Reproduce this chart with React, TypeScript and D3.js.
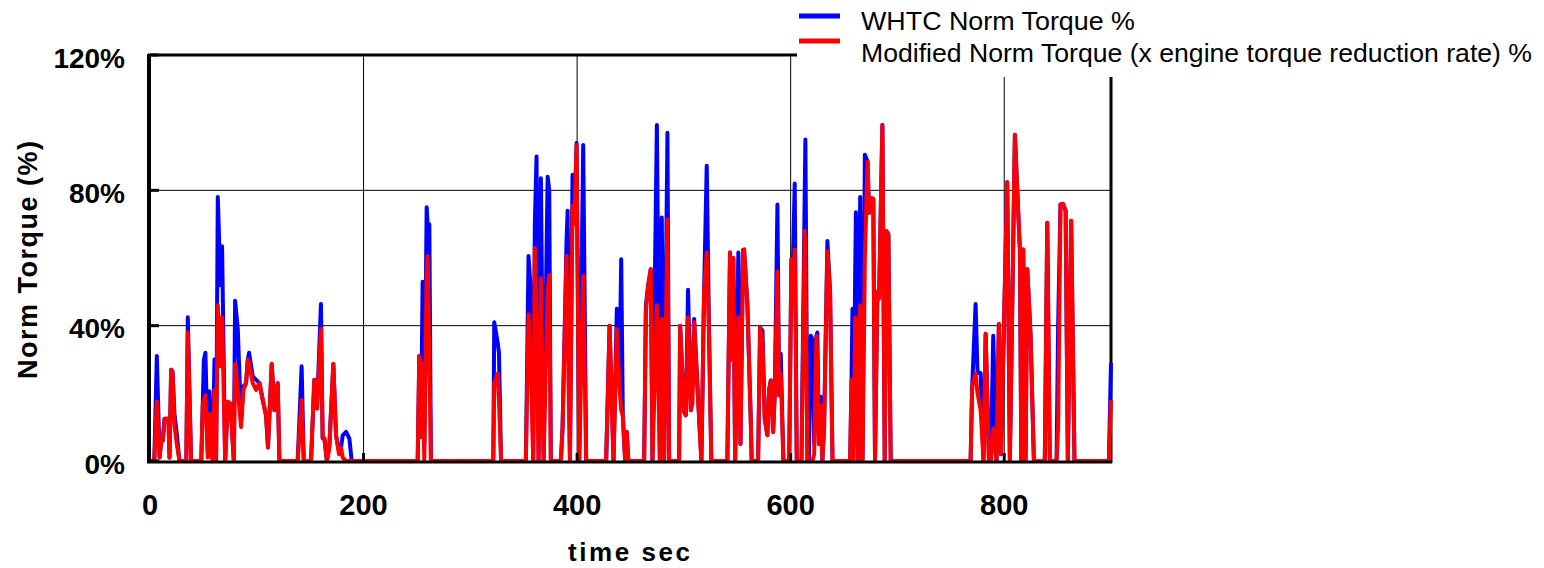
import React from "react";
import * as d3 from "d3";

// time axis (sec) and the two torque series (%)
const timeSec = [
  0, 4, 6.4, 9, 10.5, 12, 13.6, 17.3, 18.3, 19.8, 21.1, 22.9, 25.1, 27.6, 34, 35.4, 38.5, 48, 49.4, 50.4,
  51.9, 54.1, 55.7, 57.2, 58.8, 60.4, 61.9, 63.5, 66, 67.5, 70.4, 72.8, 75.3, 78.5, 79.7, 82.2, 85.3, 87.5, 90, 91.6,
  92.8, 96.2, 99.4, 102.5, 105.6, 108.7, 110.5, 114, 116.5, 119.6, 121.2, 138.3, 142, 144, 150.8, 153.9, 156.4, 160.1, 161.7, 163.3,
  165.7, 167.9, 171.7, 174.2, 177, 178.9, 180.5, 183.6, 186.7, 188.9, 250.7, 252.2, 253.8, 255.3, 256.9, 259.1, 260, 261.6, 263.1, 321.5,
  322.4, 325.6, 326.8, 328.8, 352, 354.5, 356.7, 358.9, 360.4, 362, 363.9, 366.1, 368.6, 372.4, 373.9, 375.4, 384.8, 386.4, 390.1, 391.1,
  393.3, 395.7, 397.5, 399.5, 402, 405.7, 408.5, 427.2, 430.4, 434.1, 437.2, 439.7, 441.3, 442.8, 445, 446.5, 448, 462.8, 464.4, 466.5,
  469, 470.6, 474.7, 477.5, 479.3, 481.5, 484.6, 486.2, 495.5, 496.5, 500.2, 501.8, 503.9, 506.5, 508, 509.6, 512.7, 516.4, 518.9, 521.4,
  523.6, 525.7, 540.7, 543.2, 545, 546.3, 548, 551, 553, 555.4, 556.4, 559.5, 562.6, 563.5, 569.5, 571.4, 573.6, 575.7, 578.2, 579.8,
  581.4, 583.6, 585.1, 587.6, 589.2, 590.7, 593.2, 598.6, 600.7, 602.2, 603.8, 605.7, 610.1, 613.2, 613.8, 615.7, 617, 618.8, 620.5, 622,
  624.1, 625, 626.5, 628.2, 629.7, 631.3, 634.4, 636.9, 639.2, 655.7, 657, 657.9, 659, 660.4, 661.1, 663.3, 665.1, 667.3, 669.5, 672,
  673.4, 674.9, 677.4, 679, 681.2, 682.8, 685.9, 688.1, 689.6, 691.5, 693.7, 768.5, 770, 773.2, 775, 777.9, 780.6, 782.6, 785.7, 787.5,
  789.7, 792.8, 795, 797, 802.8, 805.3, 810, 812.2, 814.7, 816, 817.8, 820, 821.6, 824.7, 827.8, 838, 840.3, 842.7, 849, 850.5,
  852.7, 855, 857.5, 859.6, 862.7, 865.8, 898, 900,
];

const whtcTorque = [
  0, 0, 31, 1, 6, 6, 12.5, 12.5, 1, 27, 26.5, 14, 8, 0, 0, 42.5, 0, 0, 16.5, 29.7,
  32, 3, 20.6, 5, 1, 30, 0, 78, 52, 63.5, 0, 17.5, 17, 0, 47.4, 39, 12, 22, 23, 30,
  32, 25, 24, 23, 18, 13.5, 4, 28.7, 15, 23, 0, 0, 28, 0, 0, 24, 15.5, 46.4, 6.7, 6.7,
  0, 4, 28.7, 7.6, 3, 4, 7.6, 8.6, 6.7, 0, 0, 31, 7, 53, 5, 75, 70, 70, 0, 0,
  41, 35, 32, 0, 0, 60.6, 50, 0, 70, 90, 0, 83.6, 0, 84, 80, 0, 0, 10, 65, 74,
  0, 84.6, 72, 94, 0, 93.4, 0, 0, 40, 0, 45, 25, 59.6, 13.5, 0, 8.6, 0, 0, 46, 51.8,
  56.7, 0, 99.3, 0, 72, 0, 97, 0, 0, 40, 14.5, 13.5, 50.6, 15, 22, 42, 22, 0, 50, 87.3,
  37, 0, 0, 61.6, 30, 60, 0, 61.6, 5, 62.4, 62.5, 46, 12.5, 0, 0, 39.5, 38.5, 12.5, 7.6, 21,
  23.8, 8.6, 20, 75.8, 19.4, 31.7, 0, 0, 59.6, 60, 82, 0, 0, 80, 95, 0, 0, 37, 36, 5,
  37, 38, 5, 19, 0, 10, 65, 50, 0, 0, 24, 45, 5, 55, 73.5, 0, 78, 0, 90.5, 88.5,
  73.3, 77.8, 77.5, 0, 50, 48, 99.3, 0, 68, 67, 0, 0, 22, 46.4, 26, 26, 0, 37.6, 0, 0,
  37, 0, 40.5, 2, 82.4, 0, 96.4, 80, 62.5, 0, 62.5, 0, 56.7, 37, 0, 0, 70.4, 0, 0, 40,
  75.8, 76, 74, 0, 71, 0, 0, 29,
];

const modifiedTorque = [
  0, 0, 17.6, 1, 6, 6, 12.5, 12.5, 1, 27, 26, 10.6, 5, 0, 0, 38, 0, 0, 16.5, 18,
  19.4, 1, 14, 2, 0, 21, 0, 46, 28, 42.5, 0, 17.5, 17, 0, 28.7, 21, 10, 21, 23, 30,
  29, 23, 21, 23, 18, 13.5, 4, 28.7, 15, 23, 0, 0, 18, 0, 0, 24, 15.5, 39, 6.7, 6.7,
  0, 4, 28.7, 7.6, 2, 4, 1, 0, 0, 0, 0, 31, 7, 29, 0, 55, 60.6, 30, 0, 0,
  23, 25.8, 18, 0, 0, 43.4, 27.7, 0, 63, 40, 0, 54, 0, 50, 55, 0, 0, 10, 60.6, 40,
  0, 75.5, 70, 93.4, 0, 54.7, 0, 0, 40, 0, 39, 22, 15, 13.5, 0, 8.6, 0, 0, 44, 51.8,
  56.7, 0, 46, 0, 42, 0, 71.4, 0, 0, 40, 14.5, 13.5, 42.5, 15, 17, 41, 22, 0, 50, 61.6,
  37, 0, 0, 61.6, 30, 60, 0, 42.5, 5, 62.4, 62.5, 46, 12.5, 0, 0, 39.5, 35, 12.5, 7.6, 21,
  23.8, 8.6, 20, 56, 19.4, 25.8, 0, 0, 59.6, 46, 62.5, 0, 0, 68, 60, 0, 0, 0, 0, 2,
  37, 30, 5, 16.5, 0, 10, 62, 50, 0, 0, 24, 20, 0, 42.5, 30, 0, 46, 0, 60, 88.5,
  73.3, 77.8, 77.5, 0, 50, 48, 99.3, 0, 68, 67, 0, 0, 22, 25.8, 20, 15, 0, 37.6, 0, 0,
  9.6, 0, 40.5, 2, 82.4, 0, 96.4, 80, 62.5, 0, 62.5, 0, 56.7, 37, 0, 0, 70.4, 0, 0, 10,
  75.8, 76, 74, 0, 71, 0, 0, 18,
];

const xTicks = [0, 200, 400, 600, 800];
const yTicks = [0, 40, 80, 120];
const legendLabels = [
  "WHTC Norm Torque %",
  "Modified Norm Torque (x engine torque reduction rate) %",
];

const W = 1544;
const H = 568;
const left = 150;
const right = 1111;
const top = 55;
const bottom = 461;

export default function App() {
  const x = d3.scaleLinear().domain([0, 900]).range([left, right]);
  const y = d3.scaleLinear().domain([0, 120]).range([bottom, top]);

  const line = d3
    .line<number>()
    .x((_, i) => x(timeSec[i]))
    .y((d) => y(d));

  const bold = { fontFamily: "'Liberation Sans', Arial, sans-serif", fontWeight: 700 };
  const plain = { fontFamily: "'Liberation Sans', Arial, sans-serif" };

  return (
    <svg width={W} height={H} style={{ position: "absolute", left: 0, top: 0, background: "#fff" }}>
      {/* grid */}
      {yTicks.filter((t) => t > 0 && t < 120).map((t) => (
        <line key={"gy" + t} x1={left} x2={right} y1={y(t)} y2={y(t)} stroke="#000" strokeWidth={1} />
      ))}
      {xTicks.filter((t) => t > 0).map((t) => (
        <line key={"gx" + t} x1={x(t)} x2={x(t)} y1={top} y2={bottom} stroke="#000" strokeWidth={1} />
      ))}

      {/* frame */}
      <line x1={left - 2} x2={right + 1} y1={top} y2={top} stroke="#000" strokeWidth={3} />
      <line x1={right} x2={right} y1={top} y2={bottom + 2} stroke="#000" strokeWidth={3} />

      {/* series */}
      <path d={line(whtcTorque) || ""} fill="none" stroke="#0000ff" strokeWidth={4} strokeLinejoin="round" />
      <path d={line(modifiedTorque) || ""} fill="none" stroke="#ff0000" strokeWidth={4} strokeLinejoin="round" />

      <line x1={left - 1} x2={left - 1} y1={top - 1} y2={bottom + 2} stroke="#000" strokeWidth={4} />
      <line x1={left - 3} x2={right + 1} y1={bottom + 1} y2={bottom + 1} stroke="#000" strokeWidth={3} />

      {/* ticks */}
      {yTicks.map((t) => (
        <line key={"ty" + t} x1={left} x2={left + 9} y1={y(t)} y2={y(t)} stroke="#000" strokeWidth={3} />
      ))}
      {xTicks.filter((t) => t > 0).map((t) => (
        <line key={"tx" + t} x1={x(t)} x2={x(t)} y1={bottom} y2={bottom - 8} stroke="#000" strokeWidth={3} />
      ))}

      {/* tick labels */}
      {yTicks.map((t) => (
        <text key={"ly" + t} x={125} y={y(t) + 3} textAnchor="end" dominantBaseline="central" fontSize={28} {...bold}>
          {t}%
        </text>
      ))}
      {xTicks.map((t) => (
        <text key={"lx" + t} x={x(t)} y={515} textAnchor="middle" fontSize={29} {...bold}>
          {t}
        </text>
      ))}

      {/* axis titles */}
      <text x={629} y={561} textAnchor="middle" fontSize={26} textLength={122} lengthAdjust="spacing" {...bold}>
        time sec
      </text>
      <text
        transform="translate(37,260) rotate(-90)"
        textAnchor="middle"
        fontSize={27}
        textLength={238}
        lengthAdjust="spacing"
        {...bold}
      >
        Norm Torque (%)
      </text>

      {/* legend */}
      <rect x={797} y={0} width={W - 797} height={77} fill="#fff" />
      <line x1={799} x2={840} y1={16} y2={16} stroke="#0000ff" strokeWidth={5} />
      <line x1={799} x2={840} y1={41} y2={41} stroke="#ff0000" strokeWidth={5} />
      <text x={861} y={30} fontSize={26} textLength={274} lengthAdjust="spacingAndGlyphs" {...plain}>
        {legendLabels[0]}
      </text>
      <text x={861} y={62} fontSize={26} textLength={671} lengthAdjust="spacingAndGlyphs" {...plain}>
        {legendLabels[1]}
      </text>
    </svg>
  );
}
